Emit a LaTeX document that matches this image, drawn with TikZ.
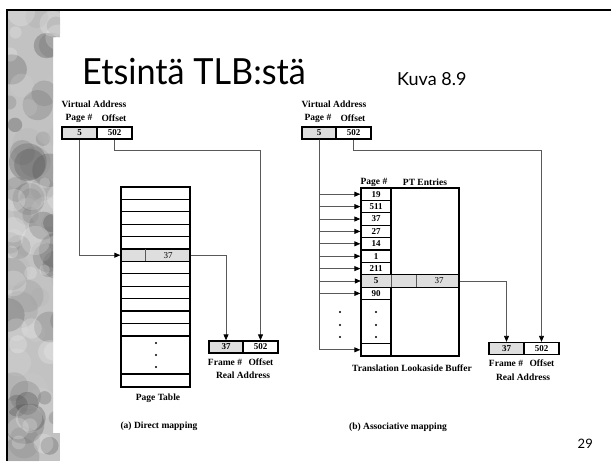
\documentclass[tikz,border=0pt]{standalone}
\usepackage{fontspec}
\setmainfont{Liberation Serif}
\newfontfamily\titlefont[FakeStretch=0.95]{Lato}
\newfontfamily\kuvafont{Lato}
\usetikzlibrary{arrows.meta,calc,positioning}

\definecolor{cellgray}{gray}{0.87}
\definecolor{linkgray}{gray}{0.35}

\tikzset{
  num/.style={inner sep=0pt, font=\fontsize{9}{9}\selectfont\bfseries},
  box/.style={num, draw=black, line width=1.3pt, minimum height=12pt},
  gbox/.style={box, fill=cellgray},
  lbl/.style={inner sep=0pt, font=\fontsize{9.5}{10}\selectfont\bfseries},
  link/.style={draw=linkgray, line width=0.8pt},
  tip/.style={link, -{Triangle[length=6pt,width=5pt,color=black]}},
  sep/.style={draw=linkgray, line width=0.6pt}
}

\begin{document}
\begin{tikzpicture}[x=1pt,y=-1pt]
\useasboundingbox (0,0) rectangle (611,461);
\fill[white] (0,0) rectangle (611,461);

% left strip of the slide
\begin{scope}
\clip (7,10) -- (60,10) -- (60,37) -- (53,37) -- (53,433) -- (60,433) -- (60,461) -- (7,461) -- cycle;
\fill[gray!48] (7,10) rectangle (60,461);
\pgfmathsetseed{5}
\foreach \i in {1,...,70}{
  \pgfmathsetmacro\px{7+55*rnd}
  \pgfmathsetmacro\py{10+451*rnd}
  \pgfmathsetmacro\r{6+14*rnd}
  \pgfmathtruncatemacro\g{15+60*rnd}
  \fill[black!\g, opacity=.3] (\px,\py) circle (\r);
}
\foreach \i in {1,...,25}{
  \pgfmathsetmacro\px{7+55*rnd}
  \pgfmathsetmacro\py{10+451*rnd}
  \pgfmathsetmacro\r{5+10*rnd}
  \fill[white, opacity=.2] (\px,\py) circle (\r);
}
\end{scope}
\draw[line width=2pt] (7,461) -- (7,10) -- (611,10);

\node[anchor=base west, inner sep=0pt, font=\titlefont\fontsize{36}{36}\selectfont] (title) at (82,84) {Etsintä TLB:stä};
\node[anchor=base west, inner sep=0pt, font=\kuvafont\fontsize{18}{18}\selectfont] (kuva) at (397,85) {Kuva 8.9};
\node[anchor=base east, inner sep=0pt, font=\kuvafont\fontsize{13}{13}\selectfont] (pageno) at (593,448) {29};

% (a) direct mapping
\node[lbl] (vaL) at (94,104) {Virtual Address};
\node[lbl] (pnL) at (79,118) {Page \#};
\node[lbl] (ofL) at (114,118) {Offset};
\node[gbox, minimum width=35pt] (pL) at (79.5,133) {5};
\node[box, minimum width=35pt] (oL) at (114.5,133) {502};

\foreach \i in {1,...,5,7,8,...,12}
  \node[box, minimum width=69pt, minimum height=12.4pt] (pt\i) at (155.5,{187+12.4*(\i-0.5)}) {};
\node[gbox, minimum width=69pt, minimum height=12.4pt] (pt6) at (155.5,{187+12.4*5.5}) {};
\draw[sep] ($(pt6.north west)+(25,0.7)$) -- ($(pt6.south west)+(25,-0.7)$);
\node[num, font=\fontsize{9}{9}\selectfont] (f37L) at (168,{187+12.4*5.5}) {37};
\node[box, minimum width=69pt, minimum height=38pt] (ptd) at (155.5,355) {};
\node[box, minimum width=69pt, minimum height=13pt] (ptL) at (155.5,380.5) {};
\foreach \y in {343,355,367} \fill (156,\y) circle (1.1pt);
\node[lbl] (ptname) at (158,398) {Page Table};

\node[gbox, minimum width=34pt] (rfL) at (226,347) {37};
\node[box, minimum width=35pt] (roL) at (260.5,347) {502};
\node[lbl] (fnL) at (225,362) {Frame \#};
\node[lbl] (foL) at (261,362) {Offset};
\node[lbl] (raL) at (243,375) {Real Address};
\node[lbl] (capA) at (159,426) {(a) Direct mapping};

\draw[tip] (pL.south) |- (pt6.west);
\draw[tip] (pt6.east) -| (rfL.north);
\draw[tip] (oL.south) -- ++(0,11) -| (roL.north);

% (b) associative mapping
\node[lbl] (vaR) at (334,104) {Virtual Address};
\node[lbl] (pnR) at (318,118) {Page \#};
\node[lbl] (ofR) at (353,118) {Offset};
\node[gbox, minimum width=34pt] (pR) at (319,133) {5};
\node[box, minimum width=35pt] (oR) at (353.5,133) {502};

\node[lbl] (tkhead) at (374,182) {Page \#};
\node[lbl] (pthead) at (425,182) {PT Entries};
\node[box, minimum width=98pt, minimum height=168pt] (tlb) at (410,272) {};
\foreach \n/\i in {19/1,511/2,37/3,27/4,14/5,1/6,211/7,90/9}
  \node[box, minimum width=30pt, minimum height=12.4pt] (tk\i) at (376,{188+12.4*(\i-0.5)}) {\n};
\node[gbox, minimum width=98pt, minimum height=12.4pt] (tr8) at (410,{188+12.4*7.5}) {};
\node[num, minimum width=30pt, minimum height=12.4pt] (tk8) at (376,{188+12.4*7.5}) {5};
\draw[sep] ($(tk8.north east)+(0,0.7)$) -- ($(tk8.south east)+(0,-0.7)$);
\draw[sep] ($(tk8.north east)+(25,0.7)$) -- ($(tk8.south east)+(25,-0.7)$);
\node[num, font=\fontsize{9}{9}\selectfont] (f37R) at (439,{188+12.4*7.5}) {37};
\node[box, minimum width=30pt, minimum height=44pt] (tkd) at (376,321.6) {};
\node[box, minimum width=30pt, minimum height=12.4pt] (tkL) at (376,349.8) {};
\foreach \y in {312,325,337} {
  \fill (340,\y) circle (1.1pt);
  \fill (376,\y) circle (1.1pt);
}
\node[lbl] (tlbname) at (412,368) {Translation Lookaside Buffer};

\node[gbox, minimum width=35pt] (rfR) at (506.5,348.5) {37};
\node[box, minimum width=35pt] (roR) at (541.5,348.5) {502};
\node[lbl] (fnR) at (506,363) {Frame \#};
\node[lbl] (foR) at (542,363) {Offset};
\node[lbl] (raR) at (523,377) {Real Address};
\node[lbl] (capB) at (398,427) {(b) Associative mapping};

\foreach \k in {1,...,9,L}
  \draw[tip] (pR.south) |- (tk\k.west);
\draw[tip] (tr8.east) -| (rfR.north);
\draw[tip] (oR.south) -- ++(0,11) -| (roR.north);
\end{tikzpicture}
\end{document}
